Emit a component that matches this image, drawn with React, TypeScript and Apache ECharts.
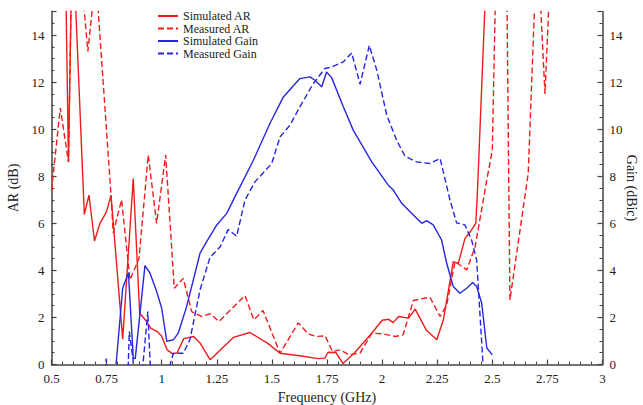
import React, { useEffect, useRef } from "react";
import * as echarts from "echarts";

// Simulated AR (dB)
const simArFreq = [0.5, 0.565, 0.577, 0.59, 0.6, 0.606, 0.649, 0.67, 0.695, 0.72, 0.75, 0.77, 0.823, 0.871, 0.9, 0.93, 0.95, 0.98, 1.0, 1.025, 1.05, 1.07, 1.1, 1.145, 1.175, 1.22, 1.325, 1.4, 1.48, 1.537, 1.627, 1.71, 1.74, 1.755, 1.79, 1.823, 1.875, 1.953, 2.0, 2.03, 2.05, 2.075, 2.12, 2.15, 2.2, 2.248, 2.278, 2.323, 2.346, 2.376, 2.4, 2.425, 2.432, 2.47];
const simArVal = [22, 16, 8.6, 16, 20, 16, 6.38, 7.2, 5.25, 6.0, 6.5, 7.2, 1.08, 7.9, 2.18, 1.85, 1.55, 1.4, 1.2, 0.62, 0.45, 0.5, 1.1, 1.19, 0.9, 0.2, 1.15, 1.36, 0.91, 0.48, 0.37, 0.25, 0.27, 0.52, 0.51, 0.04, 0.5, 1.33, 1.88, 1.92, 1.78, 2.04, 1.97, 2.35, 1.47, 1.05, 1.9, 4.37, 4.3, 5.36, 5.64, 6.0, 7.2, 16];

// Measured AR (dB)
const measArFreq = [0.5, 0.54, 0.577, 0.59, 0.63, 0.665, 0.701, 0.77, 0.78, 0.818, 0.856, 0.897, 0.939, 0.977, 1.018, 1.057, 1.098, 1.136, 1.18, 1.22, 1.26, 1.378, 1.418, 1.46, 1.537, 1.62, 1.665, 1.7, 1.741, 1.775, 1.81, 1.85, 1.9, 1.953, 2.005, 2.06, 2.095, 2.142, 2.217, 2.263, 2.293, 2.331, 2.384, 2.422, 2.475, 2.5, 2.515, 2.54, 2.566, 2.58, 2.663, 2.695, 2.71, 2.739, 2.76];
const measArVal = [7.4, 10.9, 8.6, 16, 17, 13.3, 16.5, 7.2, 5.6, 7.0, 3.6, 4.5, 8.9, 6.0, 8.9, 3.24, 3.66, 2.25, 2.04, 2.15, 1.83, 2.93, 1.9, 2.29, 0.48, 1.77, 1.3, 1.19, 1.22, 0.55, 0.62, 0.42, 0.48, 1.33, 1.3, 1.19, 1.26, 2.72, 2.86, 2.04, 2.53, 4.37, 4.02, 5.0, 7.84, 9.1, 16, 20, 16, 2.74, 8.12, 16, 17, 11.5, 16];

// Simulated Gain (dBic)
const simGainFreq = [0.793, 0.823, 0.849, 0.871, 0.88, 0.924, 0.947, 0.977, 1.0, 1.023, 1.053, 1.075, 1.113, 1.174, 1.204, 1.25, 1.295, 1.34, 1.416, 1.491, 1.552, 1.627, 1.673, 1.695, 1.726, 1.748, 1.771, 1.824, 1.869, 1.953, 2.028, 2.051, 2.089, 2.127, 2.18, 2.202, 2.232, 2.27, 2.293, 2.323, 2.353, 2.384, 2.411, 2.429, 2.452, 2.475, 2.5];
const simGainVal = [0, 3.24, 3.9, 0.27, 0.25, 4.2, 3.88, 3.1, 2.39, 0.98, 1.05, 1.33, 2.46, 4.73, 5.22, 5.93, 6.42, 7.27, 8.68, 10.24, 11.37, 12.15, 12.22, 12.08, 11.8, 12.43, 12.19, 10.95, 9.96, 8.61, 7.62, 7.41, 6.85, 6.49, 6.0, 6.11, 5.93, 5.29, 4.3, 3.31, 3.03, 3.24, 3.48, 3.31, 2.6, 0.7, 0.41];

// Measured Gain (dBic)
const measGainFreq = [0.742, 0.748, 0.754, 0.845, 0.853, 0.87, 0.878, 0.905, 0.937, 0.955, 1.03, 1.038, 1.053, 1.098, 1.128, 1.174, 1.219, 1.265, 1.302, 1.34, 1.378, 1.423, 1.499, 1.537, 1.582, 1.627, 1.688, 1.741, 1.771, 1.824, 1.862, 1.9, 1.942, 1.976, 2.021, 2.066, 2.104, 2.157, 2.217, 2.263, 2.308, 2.338, 2.376, 2.406, 2.429, 2.458];
const measGainVal = [-1, 0.25, -1, -1, 1.4, 0.2, -1, -1, 2.25, -1.5, -1, 0, 0.48, 0.48, 1.05, 3.17, 4.55, 5.0, 5.74, 5.45, 6.99, 7.76, 8.54, 9.67, 10.17, 10.95, 11.94, 12.58, 12.64, 12.86, 13.24, 11.91, 13.56, 12.5, 10.6, 9.53, 8.85, 8.61, 8.54, 8.76, 6.99, 6.02, 5.93, 5.29, 4.44, 0];

const seriesNames = ["Simulated AR", "Measured AR", "Simulated Gain", "Measured Gain"];

const zip = (f: number[], v: number[]) => f.map((x, i) => [x, v[i]]);

export default function App() {
  const ref = useRef<HTMLDivElement>(null);
  useEffect(() => {
    const chart = echarts.init(ref.current!, null, { renderer: "svg" });
    const font = "'Liberation Serif', 'Times New Roman', serif";
    const red = "#f01c1c";
    const blue = "#2626e2";
    const axisColor = "#444";
    const yAxis = (pos: string, name: string, nameGap: number, nameRotate: number) => ({
      type: "value",
      position: pos,
      min: 0,
      max: 15,
      interval: 2,
      name,
      nameLocation: "middle",
      nameGap,
      nameRotate,
      nameMoveOverlap: false,
      nameTextStyle: { fontFamily: font, fontSize: 14, color: "#222" },
      axisLine: { show: true, onZero: false, lineStyle: { color: axisColor, width: 1.5 } },
      axisTick: { show: true, inside: true, length: 5, lineStyle: { color: axisColor, width: 1.2 } },
      minorTick: { show: true, splitNumber: 4, length: 3, lineStyle: { color: axisColor, width: 1 } },
      splitLine: { show: false },
      axisLabel: {
        fontFamily: font,
        fontSize: 13,
        color: "#222",
        margin: 7,
        formatter: (v: number) => (v > 14 ? "" : String(v)),
      },
    });
    const lineSeries = (name: string, data: number[][], color: string, dashed: boolean, yIdx: number) => ({
      name,
      type: "line",
      data,
      yAxisIndex: yIdx,
      symbol: "none",
      showSymbol: false,
      clip: true,
      lineStyle: { color, width: 1.4, type: dashed ? [6, 3] : "solid" },
      itemStyle: { color },
    });
    chart.setOption({
      animation: false,
      backgroundColor: "#fff",
      grid: { left: 51.5, right: 40.5, top: 11.5, bottom: 40.5, containLabel: false, outerBoundsMode: "none" },
      legend: {
        orient: "vertical",
        left: 152,
        top: 5,
        itemWidth: 20,
        itemHeight: 10,
        itemGap: 0.5,
        itemStyle: { opacity: 0, borderWidth: 0 },
        textStyle: { fontFamily: font, fontSize: 12, color: "#222" },
        data: seriesNames,
      },
      xAxis: {
        type: "value",
        min: 0.5,
        max: 3,
        interval: 0.25,
        name: "Frequency (GHz)",
        nameLocation: "middle",
        nameGap: 26,
        nameMoveOverlap: false,
        nameTextStyle: { fontFamily: font, fontSize: 14, color: "#222" },
        axisLine: { show: true, onZero: false, lineStyle: { color: axisColor, width: 1.5 } },
        axisTick: { show: true, inside: true, length: 5, lineStyle: { color: axisColor, width: 1.2 } },
        minorTick: { show: true, splitNumber: 5, length: 3, lineStyle: { color: axisColor, width: 1 } },
        splitLine: { show: false },
        axisLabel: { fontFamily: font, fontSize: 13, color: "#222", margin: 7 },
      },
      yAxis: [yAxis("left", "AR (dB)", 31, 90), yAxis("right", "Gain (dBic)", 22, -90)],
      series: [
        lineSeries(seriesNames[0], zip(simArFreq, simArVal), red, false, 0),
        lineSeries(seriesNames[1], zip(measArFreq, measArVal), red, true, 0),
        lineSeries(seriesNames[2], zip(simGainFreq, simGainVal), blue, false, 1),
        lineSeries(seriesNames[3], zip(measGainFreq, measGainVal), blue, true, 1),
      ],
    });
    return () => chart.dispose();
  }, []);
  return (
    <div
      ref={ref}
      style={{ position: "fixed", left: 0, top: 0, width: 643, height: 405, background: "#fff" }}
    />
  );
}
